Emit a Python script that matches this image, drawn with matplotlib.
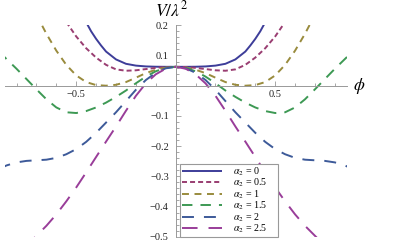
import numpy as np
from matplotlib import pyplot as plt

plt.rcParams['font.family'] = ['Liberation Serif', 'DejaVu Serif']
plt.rcParams['mathtext.fontset'] = 'stix'
plt.rcParams['lines.scale_dashes'] = False

# values for phi >= 0 (the curves are symmetric in phi)
phi_0 = [0, 0.05, 0.1, 0.15, 0.2, 0.25, 0.3, 0.35, 0.375, 0.4, 0.425, 0.45]
V_0 = [0.0625, 0.0625, 0.0628, 0.0638, 0.0665, 0.0725, 0.087, 0.113, 0.133, 0.155, 0.18, 0.21]

phi_05 = [0, 0.05, 0.1, 0.15, 0.2, 0.25, 0.3, 0.35, 0.4, 0.45, 0.5, 0.55]
V_05 = [0.0625, 0.0618, 0.059, 0.055, 0.051, 0.0495, 0.054, 0.069, 0.093, 0.124, 0.163, 0.211]

phi_1 = [0, 0.05, 0.1, 0.15, 0.2, 0.25, 0.3, 0.35, 0.4, 0.45, 0.5, 0.55, 0.6, 0.65, 0.7]
V_1 = [0.0625, 0.06, 0.0528, 0.0416, 0.0265, 0.012, 0.003, 0.0, 0.002, 0.012, 0.034, 0.069,
       0.116, 0.172, 0.235]

phi_15 = [0, 0.05, 0.1, 0.15, 0.2, 0.25, 0.3, 0.35, 0.4, 0.45, 0.5, 0.55, 0.6, 0.65, 0.7,
          0.75, 0.8, 0.85, 0.9]
V_15 = [0.0625, 0.0588, 0.0478, 0.0301, 0.008, -0.016, -0.037, -0.056, -0.072, -0.084, -0.0905,
        -0.088, -0.072, -0.045, -0.012, 0.022, 0.056, 0.088, 0.12]

phi_2 = [0, 0.05, 0.1, 0.15, 0.2, 0.25, 0.3, 0.35, 0.4, 0.45, 0.5, 0.55, 0.6, 0.65, 0.7,
         0.75, 0.8, 0.85, 0.9]
V_2 = [0.0625, 0.0575, 0.0428, 0.0188, -0.0135, -0.051, -0.088, -0.122, -0.156, -0.186, -0.21,
       -0.227, -0.239, -0.245, -0.247, -0.249, -0.254, -0.264, -0.279]

phi_25 = [0, 0.05, 0.1, 0.15, 0.2, 0.25, 0.3, 0.35, 0.4, 0.45, 0.5, 0.55, 0.6, 0.65, 0.7,
          0.75, 0.8]
V_25 = [0.0625, 0.0563, 0.0378, 0.0076, -0.0335, -0.083, -0.135, -0.185, -0.236, -0.287, -0.337,
        -0.383, -0.426, -0.464, -0.497, -0.53, -0.56]

labels = [r'$\alpha_2$ = 0', r'$\alpha_2$ = 0.5', r'$\alpha_2$ = 1',
          r'$\alpha_2$ = 1.5', r'$\alpha_2$ = 2', r'$\alpha_2$ = 2.5']
colors = [(0.24, 0.24, 0.6), (0.6, 0.24, 0.442), (0.6, 0.547, 0.24),
          (0.24, 0.6, 0.33), (0.24, 0.353, 0.6), (0.6, 0.24, 0.6)]
dashes = [None, (3.6, 2.2), (5.0, 4.0), (7.5, 5.8), (8.6, 7.2), (11.2, 7.9)]

curves = [(phi_0, V_0), (phi_05, V_05), (phi_1, V_1),
          (phi_15, V_15), (phi_2, V_2), (phi_25, V_25)]

fig = plt.figure(figsize=(3.95, 2.47), dpi=100)
ax = fig.add_axes([0.01165, 0.0417, 0.8663, 0.8559])

for (phi, V), lab, col, ds in zip(curves, labels, colors, dashes):
    phi = np.array(phi)
    V = np.array(V)
    x = np.concatenate([-phi[::-1], phi[1:]])
    y = np.concatenate([V[::-1], V[1:]])
    line, = ax.plot(x, y, color=col, lw=1.4, label=lab, solid_capstyle='butt', dash_capstyle='butt')
    if ds is not None:
        line.set_dashes(ds)

ax.set_xlim(-0.86, 0.86)
ax.set_ylim(-0.5, 0.2)

ax.spines['left'].set_position(('data', 0))
ax.spines['bottom'].set_position(('data', 0))
ax.spines['top'].set_visible(False)
ax.spines['right'].set_visible(False)
for s in ['left', 'bottom']:
    ax.spines[s].set_color('#999999')
    ax.spines[s].set_linewidth(0.7)

ax.set_xticks([-0.5, 0.5])
ax.set_xticklabels(['\u22120.5', '0.5'])
ax.set_xticks([-0.8, -0.7, -0.6, -0.4, -0.3, -0.2, -0.1, 0.1, 0.2, 0.3, 0.4, 0.6, 0.7, 0.8], minor=True)
ax.set_yticks([-0.5, -0.4, -0.3, -0.2, -0.1, 0.1, 0.2])
ax.set_yticklabels(['\u22120.5', '\u22120.4', '\u22120.3', '\u22120.2', '\u22120.1', '0.1', '0.2'])
ax.set_yticks(np.arange(-0.48, 0.2, 0.02), minor=True)
ax.tick_params(which='both', direction='in', color='#999999', width=0.6, labelsize=7.5, labelcolor='#222222')
ax.tick_params(which='major', length=3.5)
ax.tick_params(which='minor', length=2)
ax.tick_params(axis='y', pad=5)
ax.tick_params(axis='x', pad=3)

ax.text(-0.02, 0.228, r'$V/\lambda^2$', ha='center', va='baseline', fontsize=12.5)
ax.text(0.92, 0.0, r'$\phi$', ha='center', va='center', fontsize=12.5)

leg = ax.legend(loc='lower left', bbox_to_anchor=(0.5126, 0.0, 0.2867, 0.30), mode='expand',
                borderaxespad=0, fontsize=7.2, handlelength=4.0, handletextpad=1.1,
                labelspacing=-0.1, borderpad=0.15, fancybox=False, framealpha=1,
                edgecolor='#999999')
leg.get_frame().set_linewidth(0.8)

fig.savefig('out.png', dpi=100)
